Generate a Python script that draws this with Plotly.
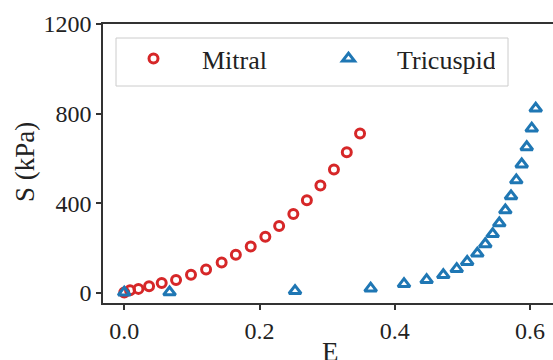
import plotly.graph_objects as go

mitral_E = [0.0, 0.0086, 0.021, 0.0367, 0.0554, 0.0766, 0.0987, 0.121, 0.144, 0.165,
            0.187, 0.2086, 0.229, 0.250, 0.270, 0.290, 0.310, 0.329, 0.3486]
mitral_S = [2, 12, 18, 30, 44, 58, 81, 104, 136, 170,
            207, 251, 299, 352, 413, 479, 551, 628, 711]

tric_E = [0.0, 0.067, 0.2525, 0.3643, 0.4136, 0.447, 0.4717, 0.4915, 0.507, 0.522,
          0.5338, 0.5447, 0.5545, 0.5634, 0.5718, 0.5796, 0.5876, 0.595, 0.6024, 0.6083]
tric_S = [2, 3, 9, 20, 40, 58, 80, 107, 139, 176,
          218, 263, 311, 369, 432, 503, 574, 651, 734, 823]

x_ticks = [0.0, 0.2, 0.4, 0.6]
x_labels = ["0.0", "0.2", "0.4", "0.6"]
y_ticks = [0, 400, 800, 1200]
y_labels = ["0", "400", "800", "1200"]

RED = "#d62728"
BLUE = "#1f77b4"
FONT = '"Liberation Serif", "Times New Roman", serif'

fig = go.Figure()
fig.add_trace(go.Scatter(
    x=mitral_E, y=mitral_S, mode="markers", name="Mitral",
    marker=dict(symbol="circle-open", size=9, color=RED, line=dict(width=3, color=RED)),
))
fig.add_trace(go.Scatter(
    x=tric_E, y=tric_S, mode="markers", name="Tricuspid",
    marker=dict(symbol="triangle-up-open", size=10.5, color=BLUE, line=dict(width=3, color=BLUE)),
))

L, T, R, B = 103, 24, 0, 57
W, H = 553, 360
pw = W - L - R
ph = H - T - B

def px(xp):
    return (xp - L) / pw

def py(yp):
    return (H - B - yp) / ph

fig.add_shape(type="rect", xref="paper", yref="paper",
              x0=px(116), x1=px(508), y0=py(86), y1=py(38),
              line=dict(color="#cccccc", width=1), fillcolor="rgba(255,255,255,0.8)", layer="above")

fig.update_layout(
    width=W, height=H,
    margin=dict(l=L, r=R, t=T, b=B),
    plot_bgcolor="white", paper_bgcolor="white",
    font=dict(family=FONT, size=24, color="#222222"),
    showlegend=True,
    legend=dict(
        orientation="h", x=px(105), y=py(35), xanchor="left", yanchor="top",
        bgcolor="rgba(0,0,0,0)", borderwidth=0,
        font=dict(family=FONT, size=26, color="#222222"),
        itemwidth=87, entrywidth=93, entrywidthmode="pixels",
        tracegroupgap=0,
    ),
    xaxis=dict(
        range=[-0.0314, (W - 124.2) / 676.5],
        tickvals=x_ticks, ticktext=x_labels,
        tickfont=dict(family=FONT, size=24, color="#222222"),
        showline=True, linecolor="#333333", linewidth=1.5, mirror=True,
        ticks="outside", ticklen=5, tickwidth=1.5, tickcolor="#333333",
        showgrid=False, zeroline=False,
    ),
    yaxis=dict(
        range=[-45, 1200],
        tickvals=y_ticks, ticktext=y_labels,
        tickfont=dict(family=FONT, size=24, color="#222222"),
        showline=True, linecolor="#333333", linewidth=1.5, mirror=False,
        ticks="outside", ticklen=5, tickwidth=1.5, tickcolor="#333333",
        showgrid=False, zeroline=False,
    ),
    annotations=[
        dict(text="E", xref="paper", yref="paper", x=px(330), y=py(352),
             xanchor="center", yanchor="middle", showarrow=False,
             font=dict(family=FONT, size=27, color="#222222")),
        dict(text="S (kPa)", xref="paper", yref="paper", x=px(25), y=py(162),
             xanchor="center", yanchor="middle", showarrow=False, textangle=-90,
             font=dict(family=FONT, size=27, color="#222222")),
    ],
)

fig.write_html("out.html")
